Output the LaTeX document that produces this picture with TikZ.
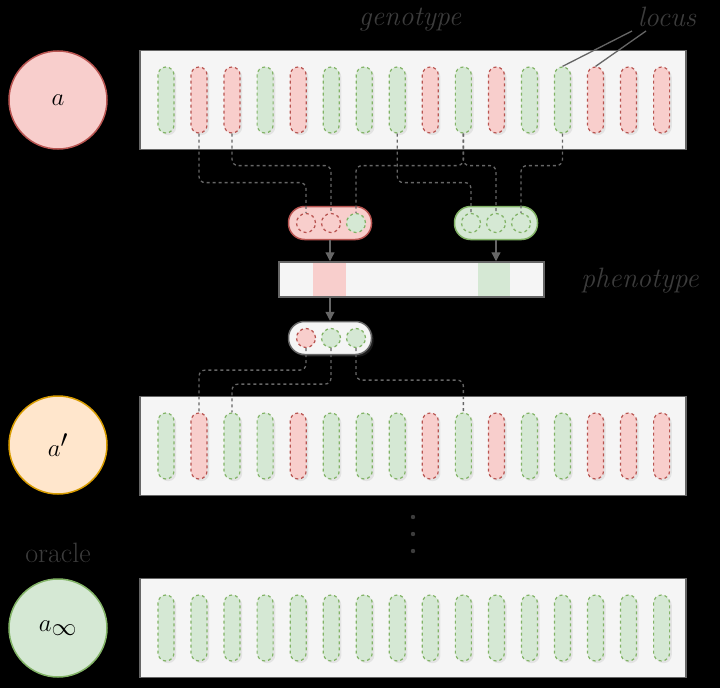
\documentclass[tikz,border=0pt]{standalone}
\usepackage{fontspec}
\usetikzlibrary{arrows.meta,shadows}
\definecolor{redfill}{HTML}{F8CECC}
\definecolor{redline}{HTML}{B85450}
\definecolor{greenfill}{HTML}{D5E8D4}
\definecolor{greenline}{HTML}{82B366}
\definecolor{orangefill}{HTML}{FFE6CC}
\definecolor{orangeline}{HTML}{D79B00}
\definecolor{barfill}{HTML}{F5F5F5}
\definecolor{barline}{HTML}{666666}
\definecolor{textgray}{HTML}{3C3C3C}
\begin{document}
\begin{tikzpicture}[
    x=1pt, y=-1pt,
    chrom/.style={draw=barline, line width=1.5pt, fill=barfill, minimum width=546pt, minimum height=99pt},
    locus/.style={rounded corners=8pt, dashed, line width=1.2pt, minimum width=16pt, minimum height=66pt, drop shadow={opacity=0.15}},
    R/.style={locus, draw=redline, fill=redfill},
    G/.style={locus, draw=greenline, fill=greenfill},
    agent/.style={circle, line width=1.5pt, minimum size=98pt, font=\fontsize{34}{34}\selectfont},
    pill/.style={rounded corners=16pt, line width=1.5pt, minimum width=83pt, minimum height=33pt},
    gene/.style={circle, dashed, line width=1.2pt, minimum size=19pt, inner sep=0pt},
    link/.style={dashed, line width=1.3pt, barline, rounded corners=6pt},
    flow/.style={-{Triangle[length=9pt,width=9pt]}, line width=1.3pt, barline},
    label/.style={text=textgray, font=\fontsize{28}{28}\selectfont\itshape}
]
    \fill (0,0) rectangle (720,688);

    % Agents
    \node[agent, draw=redline, fill=redfill] (a) at (58,100) {$a$};
    \node[agent, draw=orangeline, fill=orangefill] (a1) at (58,445) {$a'$};
    \node[agent, draw=greenline, fill=greenfill] (ainf) at (58,628) {$a_\infty$};
    \node[text=textgray, font=\fontsize{28}{28}\selectfont] (oracle) at (58,553) {oracle};

    % Genotypes
    \node[chrom] (top) at (413,100) {};
    \node[chrom] (mid) at (413,446) {};
    \node[chrom] (bot) at (413,628) {};
    \foreach \c [count=\i] in {G,R,R,G,R,G,G,G,R,G,R,G,G,R,R,R}
        \node[\c] (t\i) at ({166+33.04*(\i-1)},100) {};
    \foreach \c [count=\i] in {G,R,G,G,R,G,G,G,R,G,R,G,G,R,R,R}
        \node[\c] (m\i) at ({166+33.04*(\i-1)},446) {};
    \foreach \i in {1,...,16}
        \node[G] (b\i) at ({166+33.04*(\i-1)},628) {};
    \node[label] (geno) at (410,20) {genotype};
    \node[label] (loc) at (667,17) {locus};
    \draw[barline, line width=1.3pt] (t13.north) -- (632,31);
    \draw[barline, line width=1.3pt] (t14.north) -- (646,31);

    % Selected genes
    \node[pill, draw=redline, fill=redfill] (rp) at (330,223) {};
    \node[pill, draw=greenline, fill=greenfill] (gp) at (496,223) {};
    \node[gene, draw=redline] (r1) at (306,223) {};
    \node[gene, draw=redline] (r2) at (331,223) {};
    \node[gene, draw=greenline, fill=greenfill] (r3) at (356,223) {};
    \node[gene, draw=greenline] (g1) at (471,223) {};
    \node[gene, draw=greenline] (g2) at (496,223) {};
    \node[gene, draw=greenline] (g3) at (521,223) {};
    \draw[link] (t2.south) -- ++(0,49) -| (r1.north);
    \draw[link] (t3.south) -- ++(0,32) -| (r2.north);
    \draw[link] (t10.south) -- ++(0,32) -| (r3.north);
    \draw[link] (t8.south) -- ++(0,49) -| (g1.north);
    \draw[link] (t10.south) -- ++(0,32) -| (g2.north);
    \draw[link] (t13.south) -- ++(0,32) -| (g3.north);

    % Phenotype
    \node[draw=barline, line width=1.5pt, fill=barfill, minimum width=265pt, minimum height=35pt] (pheno) at (411.5,279.5) {};
    \fill[redfill] (313,263) rectangle (346,296);
    \fill[greenfill] (478,263) rectangle (510,296);
    \node[label] (phen) at (640,281) {phenotype};
    \draw[flow] (rp.south) -- (rp.south |- pheno.north);
    \draw[flow] (gp.south) -- (gp.south |- pheno.north);

    % Mutated genes
    \node[pill, draw=barline, fill=barfill, drop shadow={opacity=0.2}] (wp) at (330,338) {};
    \node[gene, draw=redline, fill=redfill] (w1) at (306,338) {};
    \node[gene, draw=greenline, fill=greenfill] (w2) at (331,338) {};
    \node[gene, draw=greenline, fill=greenfill] (w3) at (356,338) {};
    \draw[flow] (pheno.south -| wp.north) -- (wp.north);
    \draw[link] (w1.south) -- ++(0,22) -| (m2.north);
    \draw[link] (w2.south) -- ++(0,36) -| (m3.north);
    \draw[link] (w3.south) -- ++(0,32) -| (m10.north);

    % Dots
    \foreach \y in {517,534,551}
        \fill[textgray] (413,\y) circle (2.2pt);
\end{tikzpicture}
\end{document}
